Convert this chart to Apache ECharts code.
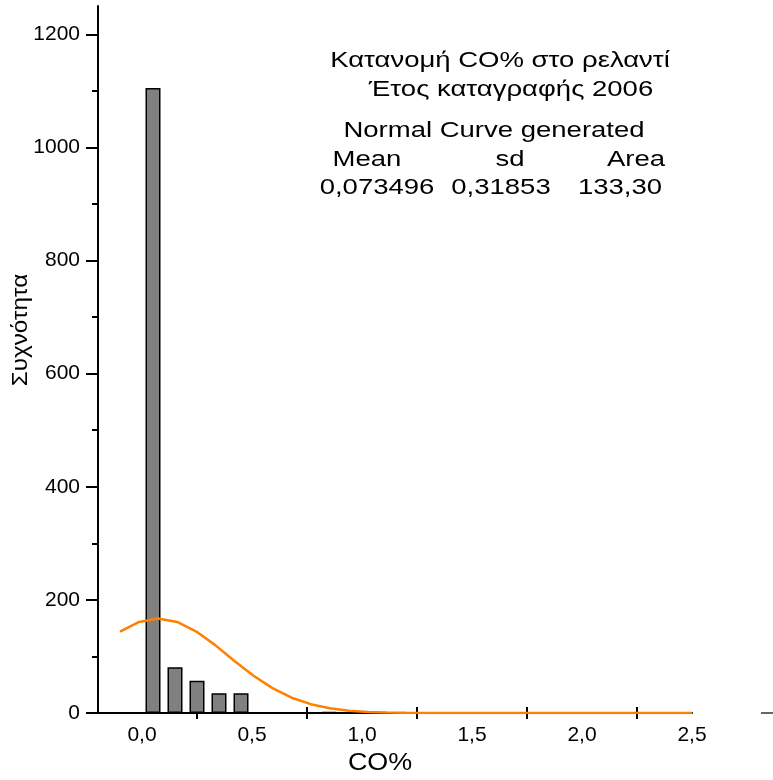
<!DOCTYPE html>
<html>
<head>
<meta charset="utf-8">
<script src="https://cdn.jsdelivr.net/npm/echarts@6/dist/echarts.min.js"></script>
<style>
html,body{margin:0;padding:0;background:#fff;}
#chart{width:773px;height:780px;}
</style>
</head>
<body>
<div id="chart"></div>
<script>
// Histogram bins (centre of each 0.1-wide bin) and counts
const binCenters = [0.05, 0.15, 0.25, 0.35, 0.45, 0.85];
const counts = [1105, 81, 57, 35, 35, 2];

// Fitted normal curve
const curveX = [-0.1, -0.013, 0.073, 0.16, 0.247, 0.333, 0.42, 0.507, 0.593, 0.68,
  0.767, 0.853, 0.94, 1.027, 1.113, 1.2, 1.287, 1.373, 1.46, 1.547, 1.633, 1.72,
  1.807, 1.893, 1.98, 2.067, 2.153, 2.24, 2.327, 2.413, 2.5];
const curveY = [144, 161, 167, 161, 144, 120, 92, 66, 44, 27,
  15.6, 8.4, 4.1, 1.9, 0.8, 0.3, 0.1, 0, 0, 0, 0, 0,
  0, 0, 0, 0, 0, 0, 0, 0, 0];

// Axis labels / ticks
const xLabelValues = [0, 0.5, 1, 1.5, 2, 2.5];
const xTickValues = [0.25, 0.75, 1.25, 1.75, 2.25];
const yLabelValues = [0, 200, 400, 600, 800, 1000, 1200];
const yMinorValues = [100, 300, 500, 700, 900, 1100];

const xName = 'CO%';
const yName = 'Συχνότητα';
const titleLines = ['Κατανομή CO% στο ρελαντί', 'Έτος καταγραφής 2006', 'Normal Curve generated'];
const statHeaders = ['Mean', 'sd', 'Area'];
const statValues = ['0,073496', '0,31853', '133,30'];

const FONT = '"Liberation Sans", Arial, sans-serif';
const fmt = v => v.toFixed(1).replace('.', ',');

const chart = echarts.init(document.getElementById('chart'), null, {renderer: 'canvas'});

const txt = (s, x, y, size, opts) => Object.assign({
  type: 'text', x: x, y: y,
  style: {text: s, fill: '#000', font: size + 'px ' + FONT, textAlign: 'center', textVerticalAlign: 'middle'}
}, opts || {});

const SX = 1.25;

chart.setOption({
  backgroundColor: '#fff',
  animation: false,
  grid: {left: 98, right: 81, top: 6, bottom: 67, containLabel: false},
  xAxis: [{
    type: 'value', min: -0.2, max: 2.5,
    axisLine: {show: true, onZero: false, lineStyle: {color: '#000', width: 2}},
    axisTick: {show: true, customValues: xTickValues, length: 6, inside: false, lineStyle: {color: '#000', width: 2}},
    axisLabel: {show: true, customValues: xLabelValues, formatter: fmt, margin: 12,
      color: '#000', fontSize: 21, fontFamily: FONT},
    splitLine: {show: false}
  }, {
    type: 'value', min: -0.2, max: 2.5, position: 'bottom', offset: 0,
    axisLine: {show: false, onZero: false},
    axisTick: {show: true, customValues: xTickValues, length: 6, inside: true, lineStyle: {color: '#000', width: 2}},
    axisLabel: {show: false},
    splitLine: {show: false}
  }],
  yAxis: [{
    type: 'value', min: 0, max: 1250,
    axisLine: {show: true, onZero: false, lineStyle: {color: '#000', width: 2}},
    axisTick: {show: true, customValues: yMinorValues, length: 6, lineStyle: {color: '#000', width: 2}},
    axisLabel: {show: true, customValues: yLabelValues, margin: 18, formatter: v => String(v),
      color: '#000', fontSize: 21, fontFamily: FONT},
    splitLine: {show: false}
  }, {
    type: 'value', min: 0, max: 1250, position: 'left', offset: 0,
    axisLine: {show: false, onZero: false},
    axisTick: {show: true, customValues: yLabelValues, length: 12, lineStyle: {color: '#000', width: 2}},
    axisLabel: {show: false},
    splitLine: {show: false}
  }],
  series: [{
    type: 'bar',
    xAxisIndex: 0, yAxisIndex: 0,
    data: binCenters.map((c, i) => [c, counts[i]]),
    barWidth: 15,
    itemStyle: {color: '#808080', borderColor: '#000', borderWidth: 1.5},
    z: 2
  }, {
    type: 'line',
    xAxisIndex: 0, yAxisIndex: 0,
    data: curveX.map((x, i) => [x, curveY[i]]),
    showSymbol: false, symbol: 'none', smooth: false,
    lineStyle: {color: '#ff8000', width: 2.5},
    z: 3
  }],
  graphic: [
    txt(titleLines[0], 500, 61, 22, {scaleX: SX}),
    txt(titleLines[1], 511, 90, 22, {scaleX: SX}),
    txt(titleLines[2], 494, 131, 22, {scaleX: SX}),
    txt(statHeaders[0], 367, 160, 22, {scaleX: SX}),
    txt(statHeaders[1], 510, 160, 22, {scaleX: SX}),
    txt(statHeaders[2], 636, 160, 22, {scaleX: SX}),
    txt(statValues[0], 377, 188, 22, {scaleX: SX}),
    txt(statValues[1], 501, 188, 22, {scaleX: SX}),
    txt(statValues[2], 620, 188, 22, {scaleX: SX}),
    txt(xName, 380, 763, 24, {scaleX: 1.12}),
    txt(yName, 21, 330, 22, {rotation: Math.PI / 2, scaleX: 1.1}),
    {type: 'line', shape: {x1: 761, y1: 713, x2: 773, y2: 713}, style: {stroke: '#333', lineWidth: 1.5}}
  ]
});
</script>
</body>
</html>
